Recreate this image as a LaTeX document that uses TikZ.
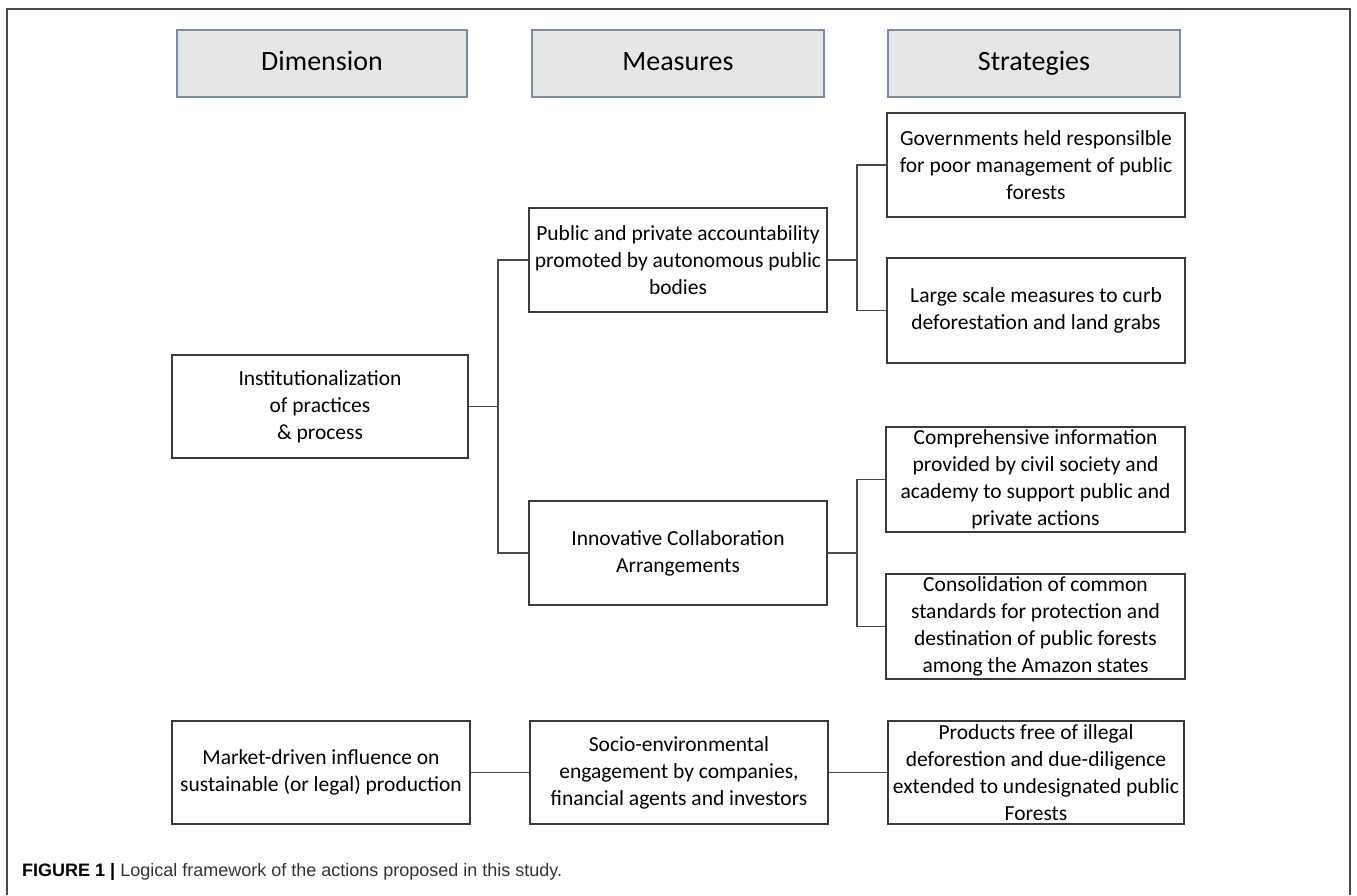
\documentclass[tikz,border=0pt]{standalone}
\usepackage{fontspec}
\setmainfont{Carlito}
\newfontfamily\capfont{Liberation Sans}
\definecolor{hdrfill}{HTML}{E6E6E6}
\definecolor{hdrline}{HTML}{7D8CA3}
\definecolor{boxline}{HTML}{3A3A3A}
\definecolor{linkline}{HTML}{4A4A4A}
\definecolor{capgray}{HTML}{333333}
\begin{document}
\begin{tikzpicture}[x=1pt,y=-1pt,
  hdr/.style={draw=hdrline, fill=hdrfill, line width=1.2pt, inner sep=0pt,
    minimum height=67pt, text height=19pt, text depth=5pt, align=center,
    font=\fontsize{28}{32}\selectfont},
  box/.style={draw=boxline, line width=1.6pt, inner sep=0pt, align=center,
    font=\fontsize{21.5}{27}\selectfont},
  link/.style={draw=linkline, line width=1.7pt}]
\useasboundingbox (0,0) rectangle (1357,895);
\draw[linkline, line width=1.2pt] (7,895) -- (7,9) -- (1350,9) -- (1350,895);
% headers
\node[hdr, minimum width=290pt] (hdim) at (322,63.5) {Dimension};
\node[hdr, minimum width=292pt] (hmea) at (678,63.5) {Measures};
\node[hdr, minimum width=292pt] (hstr) at (1034,63.5) {Strategies};
% dimension column
\node[box, minimum width=296pt, minimum height=103pt] (inst) at (320,406.5)
  {Institutionalization\\of practices\\\& process};
\node[box, minimum width=298pt, minimum height=103pt] (market) at (321,772.5)
  {Market-driven influence on\\sustainable (or legal) production};
% measures column
\node[box, minimum width=298pt, minimum height=104pt] (pub) at (678,260)
  {Public and private accountability\\promoted by autonomous public\\bodies};
\node[box, minimum width=298pt, minimum height=104pt] (inno) at (678,553)
  {Innovative Collaboration\\Arrangements};
\node[box, minimum width=298pt, minimum height=103pt] (socio) at (679,772.5)
  {Socio-environmental\\engagement by companies,\\financial agents and investors};
% strategies column
\node[box, minimum width=298pt, minimum height=104pt] (gov) at (1036,165)
  {Governments held responsilble\\for poor management of public\\forests};
\node[box, minimum width=298pt, minimum height=105pt] (large) at (1036,310.5)
  {Large scale measures to curb\\deforestation and land grabs};
\node[box, minimum width=299pt, minimum height=105pt] (comp) at (1035.5,479.5)
  {Comprehensive information\\provided by civil society and\\academy to support public and\\private actions};
\node[box, minimum width=299pt, minimum height=105pt] (cons) at (1035.5,626.5)
  {Consolidation of common\\standards for protection and\\destination of public forests\\among the Amazon states};
\node[box, minimum width=296pt, minimum height=103pt] (prod) at (1036,772.5)
  {Products free of illegal\\deforestion and due-diligence\\extended to undesignated public\\Forests};
% junctions
\coordinate (j1) at (498,0);
\coordinate (j2) at (857,0);
% connectors
\draw[link] (pub.west) -- (pub.west -| j1) |- (inno.west);
\draw[link] (inst.east) -- (inst.east -| j1);
\draw[link] (gov.west) -- (gov.west -| j2) |- (large.west);
\draw[link] (pub.east) -- (pub.east -| j2);
\draw[link] (comp.west) -- (comp.west -| j2) |- (cons.west);
\draw[link] (inno.east) -- (inno.east -| j2);
\draw[link] (market.east) -- (socio.west);
\draw[link] (socio.east) -- (prod.west);
% caption
\node[anchor=west, inner sep=0pt, font=\capfont\fontsize{18}{21}\selectfont, text=capgray] (cap) at (22,872)
  {\textcolor{black}{\bfseries FIGURE 1 |} Logical framework of the actions proposed in this study.};
\end{tikzpicture}
\end{document}
